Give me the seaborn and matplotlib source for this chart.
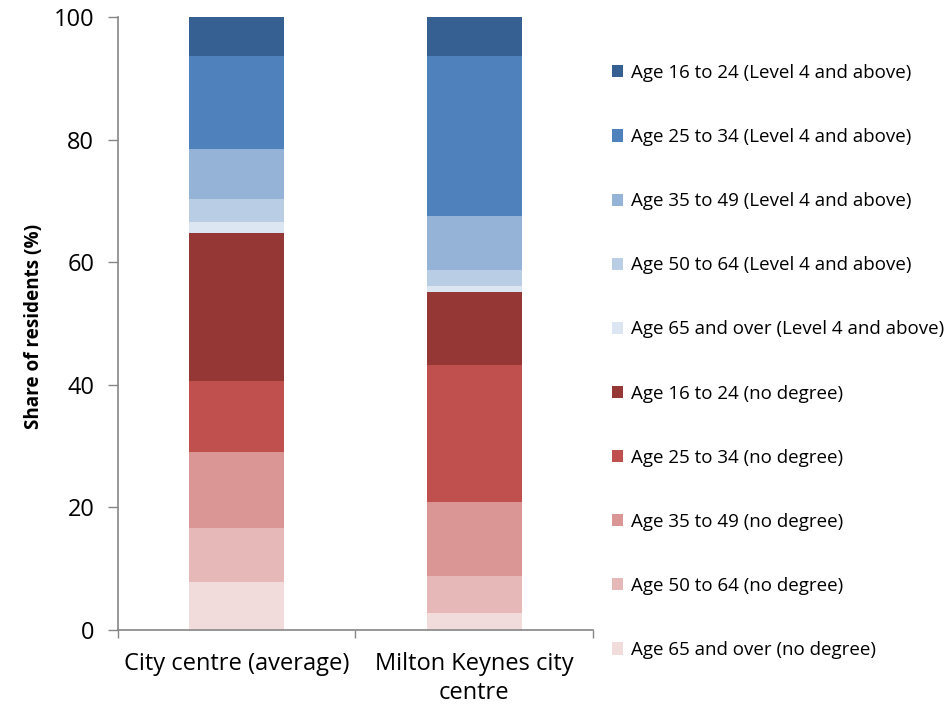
import matplotlib
matplotlib.use("Agg")
import matplotlib.pyplot as plt
import seaborn as sns
import numpy as np
from matplotlib.patches import Patch

categories = ["City centre (average)", "Milton Keynes city\ncentre"]

# Stacking order bottom -> top
series_names = [
    "Age 65 and over (no degree)",
    "Age 50 to 64 (no degree)",
    "Age 35 to 49 (no degree)",
    "Age 25 to 34 (no degree)",
    "Age 16 to 24 (no degree)",
    "Age 65 and over (Level 4 and above)",
    "Age 50 to 64 (Level 4 and above)",
    "Age 35 to 49 (Level 4 and above)",
    "Age 25 to 34 (Level 4 and above)",
    "Age 16 to 24 (Level 4 and above)",
]
city_avg = [7.8, 8.8, 12.4, 11.6, 24.1, 1.8, 3.8, 8.1, 15.2, 6.4]
milton_keynes = [2.8, 6.0, 12.0, 22.5, 11.8, 1.0, 2.6, 8.8, 26.1, 6.4]
colors = ["#F2DCDB", "#E6B9B8", "#D99694", "#C0504D", "#953735",
          "#DCE6F2", "#B9CDE5", "#95B3D7", "#4F81BD", "#366092"]

sns.set_theme(style="white")
plt.rcParams["font.family"] = ["Open Sans", "DejaVu Sans"]
plt.rcParams["text.color"] = "black"
plt.rcParams["xtick.color"] = "black"
plt.rcParams["ytick.color"] = "black"
plt.rcParams["axes.labelcolor"] = "black"

fig = plt.figure(figsize=(9.49, 7.10), dpi=100)
ax = fig.add_axes([0.1243, 0.1127, 0.5005, 0.8633])

bottom = np.zeros(len(categories))
for name, a, b, c in zip(series_names, city_avg, milton_keynes, colors):
    vals = np.array([a, b])
    sns.barplot(x=categories, y=vals, bottom=bottom, color=c, width=0.4,
                ax=ax, saturation=1, linewidth=0)
    bottom += vals

ax.set_xlim(-0.5, 1.5)
ax.set_ylim(0, 100)
ax.set_yticks([0, 20, 40, 60, 80, 100])
ax.tick_params(axis="y", which="major", direction="out", length=7, width=1,
               color="#868686", labelsize=17, pad=10, left=True)
ax.set_xticks([0, 1])
ax.set_xticklabels(categories, fontsize=17, linespacing=1.25)
ax.set_xticks([-0.5, 0.5, 1.5], minor=True)
ax.tick_params(axis="x", which="major", length=0, pad=16)
ax.tick_params(axis="x", which="minor", direction="out", length=6, width=1,
               color="#868686", bottom=True)
for s in ["top", "right"]:
    ax.spines[s].set_visible(False)
for s in ["left", "bottom"]:
    ax.spines[s].set_color("#868686")
    ax.spines[s].set_linewidth(1.2)

ax.set_ylabel("Share of residents (%)", fontsize=13.6, fontweight="bold")
ax.yaxis.set_label_coords(-0.155, 0.495)
ax.set_xlabel("")

handles = [Patch(facecolor=c, edgecolor="none") for c in colors[::-1]]
labels = series_names[::-1]
fig.legend(handles, labels, loc="center left", bbox_to_anchor=(0.6367, 0.4908),
           frameon=False, fontsize=13.5, labelspacing=2.46, handlelength=0.62,
           handleheight=0.62, handletextpad=0.4, borderaxespad=0)

fig.savefig("out.png", dpi=100)
